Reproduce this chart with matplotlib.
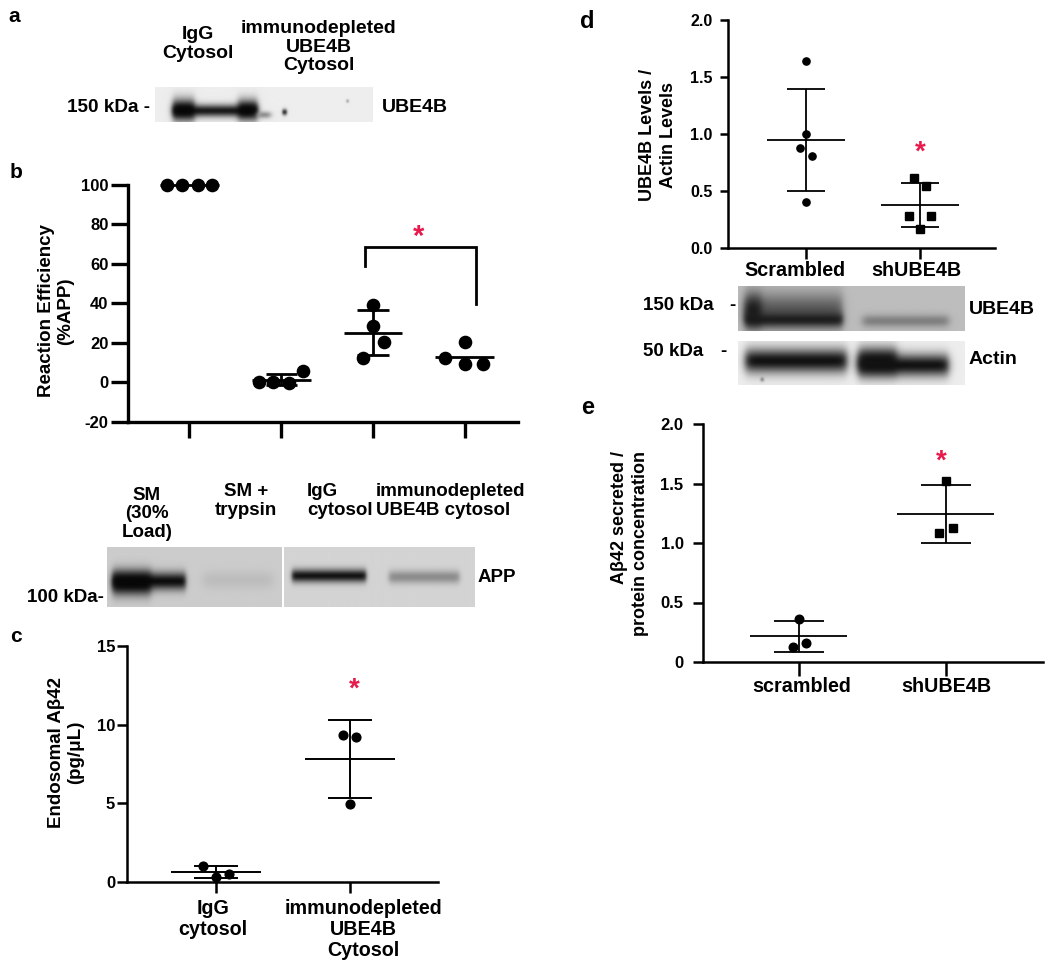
import numpy as np
import matplotlib
matplotlib.use('Agg')
import matplotlib.pyplot as plt
from matplotlib.transforms import blended_transform_factory

plt.rcParams['font.family'] = ['Liberation Sans', 'DejaVu Sans']
plt.rcParams['font.weight'] = 'bold'
plt.rcParams['axes.unicode_minus'] = False

W, H = 1050, 968
RED = '#e8194b'

# ---------------- data ----------------
# panel b
b_groups = ['SM (30% Load)', 'SM + trypsin', 'IgG cytosol', 'immunodepleted UBE4B cytosol']
b_points = [[100, 100, 100, 100], [0.0, 0.0, -0.3, 5.6], [39.0, 28.7, 20.4, 12.6], [12.3, 20.4, 9.3, 9.3]]
b_mean = [100, 1.4, 25.2, 12.8]
b_sd = [0, 2.8, 11.3, 0]
b_yticks = [-20, 0, 20, 40, 60, 80, 100]
b_star_y = 78
b_bracket = [68.6, 59, 39.7]   # top, left leg end, right leg end

# panel c
c_categories = ['IgG\ncytosol', 'immunodepleted\nUBE4B\nCytosol']
c_points = [[1.03, 0.34, 0.49], [9.34, 9.2, 4.98]]
c_mean = [0.65, 7.84]
c_sd = [0.37, 2.48]
c_yticks = [0, 5, 10, 15]
c_star_y = 12.8

# panel d
d_categories = ['Scrambled', 'shUBE4B']
d_points = [[1.64, 1.0, 0.88, 0.81, 0.40], [0.61, 0.54, 0.28, 0.28, 0.164]]
d_mean = [0.946, 0.377]
d_sd = [0.449, 0.19]
d_yticks = [0, 0.5, 1.0, 1.5, 2.0]
d_yticklabels = ['0.0', '0.5', '1.0', '1.5', '2.0']
d_star_y = 0.92

# panel e
e_categories = ['scrambled', 'shUBE4B']
e_points = [[0.36, 0.162, 0.123], [1.52, 1.13, 1.08]]
e_mean = [0.215, 1.243]
e_sd = [0.127, 0.241]
e_yticks = [0, 0.5, 1.0, 1.5, 2.0]
e_yticklabels = ['0', '0.5', '1.0', '1.5', '2.0']
e_star_y = 1.76

# ---------------- helpers ----------------
fig = plt.figure(figsize=(W / 100, H / 100), dpi=100)


def ax_px(x0, y0, x1, y1):
    return fig.add_axes([x0 / W, 1 - y1 / H, (x1 - x0) / W, (y1 - y0) / H])


def T(x, y, s, **kw):
    kw.setdefault('ha', 'center')
    kw.setdefault('va', 'center')
    kw.setdefault('fontweight', 'bold')
    return fig.text(x / W, 1 - y / H, s, **kw)


def style_axes(ax, lw, ylen, xlen, ypad, yfs):
    for s in ['top', 'right']:
        ax.spines[s].set_visible(False)
    for s in ['left', 'bottom']:
        ax.spines[s].set_linewidth(lw)
    ax.tick_params(axis='y', direction='out', length=ylen, width=lw, pad=ypad, labelsize=yfs)
    ax.tick_params(axis='x', direction='out', length=xlen, width=lw, labelbottom=False)
    for lab in ax.get_yticklabels():
        lab.set_fontweight('bold')


def draw_group(ax, x, pts, offs, m, s, mhw, chw, marker, ms, lw):
    ax.plot(x + np.array(offs), pts, marker, color='k', ms=ms, ls='none', clip_on=False, zorder=3)
    ax.hlines(m, x - mhw, x + mhw, color='k', lw=lw, zorder=2, clip_on=False)
    if s > 0:
        ax.vlines(x, m - s, m + s, color='k', lw=lw, zorder=2, clip_on=False)
        ax.hlines([m - s, m + s], x - chw, x + chw, color='k', lw=lw, zorder=2, clip_on=False)


def star(ax, x, y, fs=20):
    ax.annotate('*', xy=(x, y), xytext=(0, -0.58 * fs), textcoords='offset points',
                ha='center', va='baseline', color=RED, fontsize=fs, fontweight='bold',
                annotation_clip=False)


def blot(x0, y0, x1, y1, bg, bands, res=(240, 80)):
    ax = ax_px(x0, y0, x1, y1)
    w, h = res
    yy, xx = np.mgrid[0:h, 0:w]
    xx = xx / (w - 1)
    yy = yy / (h - 1)
    img = np.full((h, w), float(bg))
    for (bx0, bx1, yc, hy, val, soft) in bands:
        hx = 0.5 * (1 + np.tanh((xx - bx0) / soft)) * 0.5 * (1 + np.tanh((bx1 - xx) / soft))
        vy = np.exp(-((yy - yc) / hy) ** 2)
        a = np.clip(hx * vy, 0, 1)
        img = img * (1 - a) + val * a
    ax.imshow(img, cmap='gray', vmin=0, vmax=1, aspect='auto', interpolation='bilinear',
              extent=(0, 1, 1, 0))
    ax.set_xlim(0, 1)
    ax.set_ylim(1, 0)
    ax.set_axis_off()
    return ax


FS_BLOT = 13.5

# ---------------- panel a ----------------
T(14, 17, 'a', fontsize=15)
T(198, 44, 'IgG\nCytosol', fontsize=14, linespacing=1.2)
T(319, 47, 'immunodepleted\nUBE4B\nCytosol', fontsize=14, linespacing=1.15)
T(150, 108, '150 kDa -', fontsize=13.6, ha='right')
T(382, 108, 'UBE4B', fontsize=14, ha='left')
blot(155, 87, 373, 122, 0.93, [
    (0.08, 0.47, 0.68, 0.18, 0.10, 0.012),
    (0.08, 0.18, 0.66, 0.32, 0.03, 0.015),
    (0.38, 0.47, 0.66, 0.30, 0.03, 0.015),
    (0.47, 0.53, 0.80, 0.10, 0.55, 0.015),
    (0.585, 0.605, 0.72, 0.09, 0.15, 0.006),
    (0.88, 0.89, 0.40, 0.05, 0.6, 0.004),
])

# ---------------- panel b ----------------
T(16, 173, 'b', fontsize=15)
axb = ax_px(128, 185, 518, 422)
axb.set_xlim(0.33, 4.58)
axb.set_ylim(-20, 100)
axb.set_yticks(b_yticks)
axb.set_yticklabels([str(v) for v in b_yticks])
axb.set_xticks([1, 2, 3, 4])
style_axes(axb, 2.4, 12, 11.5, 2, 12)
b_offs = [[-0.24, -0.08, 0.09, 0.24], [-0.24, -0.09, 0.08, 0.24], [0, 0, 0.12, -0.11], [-0.22, 0, 0, 0.2]]
for i in range(4):
    draw_group(axb, i + 1, b_points[i], b_offs[i], b_mean[i], b_sd[i], 0.32, 0.17, 'o', 8.8, 2.0)
axb.plot([2.91, 2.91, 4.12, 4.12], [b_bracket[1], b_bracket[0], b_bracket[0], b_bracket[2]],
         color='k', lw=2.0, clip_on=False, solid_joinstyle='miter')
star(axb, 3.5, b_star_y, fs=21)
T(56, 311, 'Reaction Efficiency\n(%APP)', fontsize=13.5, rotation=90, linespacing=1.15)

# blot b
T(147, 514, 'SM\n(30%\nLoad)', fontsize=FS_BLOT, linespacing=1.15)
T(246, 501, 'SM +\ntrypsin', fontsize=FS_BLOT, linespacing=1.15)
T(307, 501, 'IgG\ncytosol', fontsize=FS_BLOT, ha='left', linespacing=1.15)
T(376, 501, 'immunodepleted\nUBE4B cytosol', fontsize=FS_BLOT, ha='left', linespacing=1.15)
T(478, 578, 'APP', fontsize=FS_BLOT, ha='left')
T(104, 597, '100 kDa-', fontsize=FS_BLOT, ha='right')
blot(107, 547, 282, 607, 0.80, [
    (0.03, 0.45, 0.57, 0.15, 0.05, 0.015),
    (0.03, 0.25, 0.60, 0.20, 0.03, 0.02),
    (0.55, 0.95, 0.55, 0.15, 0.74, 0.03),
])
blot(284, 547, 475, 607, 0.83, [
    (0.04, 0.43, 0.48, 0.11, 0.08, 0.012),
    (0.55, 0.92, 0.50, 0.11, 0.55, 0.015),
])

# ---------------- panel c ----------------
T(16, 637, 'c', fontsize=15)
axc = ax_px(127, 646, 438, 882)
axc.set_xlim(0.336, 2.657)
axc.set_ylim(0, 15)
axc.set_yticks(c_yticks)
axc.set_yticklabels([str(v) for v in c_yticks])
axc.set_xticks([1, 2])
style_axes(axc, 1.8, 7, 8, 1.5, 12)
c_offs = [[-0.1, 0, 0.1], [-0.05, 0.045, 0]]
for i in range(2):
    draw_group(axc, i + 1, c_points[i], c_offs[i], c_mean[i], c_sd[i], 0.336, 0.165, 'o', 6.3, 1.4)
star(axc, 2.03, c_star_y, fs=20)
trc = blended_transform_factory(axc.transData, fig.transFigure)
for x, lab in zip([0.98, 2.1], c_categories):
    axc.text(x, 1 - 899 / H, lab, transform=trc, ha='center', va='top', fontsize=14.2,
             fontweight='bold', linespacing=1.12)
T(66, 752, 'Endosomal A\u03b242\n(pg/\u03bcL)', fontsize=13.5, rotation=90, linespacing=1.2)

# ---------------- panel d ----------------
T(587, 21, 'd', fontsize=17)
axd = ax_px(728, 20, 995, 248)
axd.set_xlim(0.316, 2.658)
axd.set_ylim(0, 2.0)
axd.set_yticks(d_yticks)
axd.set_yticklabels(d_yticklabels)
axd.set_xticks([1, 2])
style_axes(axd, 1.8, 6, 8, 5, 11.5)
d_offs = [[0, 0, -0.05, 0.05, 0], [-0.05, 0.05, -0.1, 0.1, 0]]
d_markers = ['o', 's']
for i in range(2):
    draw_group(axd, i + 1, d_points[i], d_offs[i], d_mean[i], d_sd[i], 0.34, 0.17,
               d_markers[i], 5.2, 1.3)
star(axd, 2.0, d_star_y, fs=20)
trd = blended_transform_factory(axd.transData, fig.transFigure)
for x, lab in zip([0.9, 1.97], d_categories):
    axd.text(x, 1 - 270 / H, lab, transform=trd, ha='center', va='center', fontsize=14.2,
             fontweight='bold')
T(658, 135, 'UBE4B Levels /\nActin Levels', fontsize=13, rotation=90, linespacing=1.35)

# blots d
T(643, 305, '150 kDa', fontsize=FS_BLOT, ha='left')
T(732, 305, '-', fontsize=FS_BLOT)
T(643, 352, '50 kDa', fontsize=FS_BLOT, ha='left')
T(723, 352, '-', fontsize=FS_BLOT)
T(969, 309, 'UBE4B', fontsize=14, ha='left')
T(969, 360, 'Actin', fontsize=14, ha='left')
blot(738, 286, 965, 331, 0.74, [
    (0.03, 0.46, 0.55, 0.40, 0.35, 0.02),
    (0.03, 0.46, 0.75, 0.16, 0.12, 0.015),
    (0.03, 0.10, 0.55, 0.35, 0.10, 0.02),
    (0.55, 0.93, 0.78, 0.14, 0.50, 0.02),
])
blot(738, 341, 965, 385, 0.93, [
    (0.03, 0.48, 0.45, 0.28, 0.07, 0.02),
    (0.53, 0.93, 0.55, 0.26, 0.07, 0.02),
    (0.53, 0.70, 0.45, 0.30, 0.07, 0.02),
    (0.10, 0.11, 0.88, 0.05, 0.4, 0.006),
])

# ---------------- panel e ----------------
T(588, 407, 'e', fontsize=17)
axe = ax_px(703, 424, 1043, 662)
axe.set_xlim(0.347, 2.66)
axe.set_ylim(0, 2.0)
axe.set_yticks(e_yticks)
axe.set_yticklabels(e_yticklabels)
axe.set_xticks([1, 2])
style_axes(axe, 1.8, 7, 10, 7, 12)
e_offs = [[0, 0.05, -0.04], [0, 0.05, -0.05]]
e_markers = ['o', 's']
for i in range(2):
    draw_group(axe, i + 1, e_points[i], e_offs[i], e_mean[i], e_sd[i], 0.33, 0.17,
               e_markers[i], 6.2, 1.3)
star(axe, 1.97, e_star_y, fs=20)
tre = blended_transform_factory(axe.transData, fig.transFigure)
for x, lab in zip([1.02, 2.0], e_categories):
    axe.text(x, 1 - 686 / H, lab, transform=tre, ha='center', va='center', fontsize=14.2,
             fontweight='bold')
T(630, 544, 'A\u03b242 secreted /\nprotein concentration', fontsize=13, rotation=90,
  linespacing=1.3, multialignment='right')

fig.savefig('out.png', dpi=100)
